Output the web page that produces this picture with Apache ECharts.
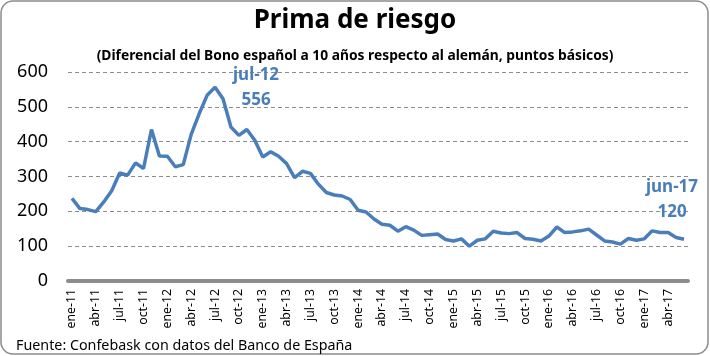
<!DOCTYPE html>
<html><head><meta charset="utf-8">
<script src="https://cdn.jsdelivr.net/npm/echarts@6/dist/echarts.min.js"></script>
<style>html,body{margin:0;padding:0;background:#fff}#c{width:710px;height:356px}</style>
</head><body><div id="c"></div>
<script>
const months = ['ene','feb','mar','abr','may','jun','jul','ago','sep','oct','nov','dic'];
const categories = [];
for (let y = 11; y <= 17; y++) for (let m = 0; m < 12; m++) { if (y === 17 && m > 5) break; categories.push(months[m] + '-' + y); }
const spread = [237,208,205,199,227,259,310,304,339,323,435,359,358,328,334,421,480,533,556,523,442,418,
  435,404,356,371,358,337,297,315,309,278,254,247,244,234,203,198,178,163,160,143,156,146,131,133,135,
  119,115,121,100,117,121,143,138,136,139,122,120,115,129,155,139,141,144,149,132,115,112,106,122,117,121,144,139,139,125,120];
const yTicks = [0,100,200,300,400,500,600];
const titleText = 'Prima de riesgo';
const subtitleText = '(Diferencial del Bono español a 10 años respecto al alemán, puntos básicos)';
const sourceText = 'Fuente: Confebask con datos del Banco de España';
const annotations = [{cat:'jul-12', val:556}, {cat:'jun-17', val:120}];
const blue = '#4a7ebb';
const chart = echarts.init(document.getElementById('c'));
chart.setOption({
  animation:false,
  title:[
    {text:titleText,left:'center',top:3,textStyle:{fontFamily:'Noto Sans',fontWeight:'bold',fontSize:26,color:'#000'}},
    {text:subtitleText,left:'center',top:44,textStyle:{fontFamily:'Noto Sans',fontWeight:'bold',fontSize:13.8,color:'#000'}},
    {text:sourceText,left:11,top:334,textStyle:{fontFamily:'Noto Sans',fontWeight:'normal',fontSize:14.3,color:'#000'}}
  ],
  graphic:[{type:'rect',shape:{x:1,y:1,width:707,height:353,r:12},style:{fill:'none',stroke:'#8c8c8c',lineWidth:1.5},z:-1}],
  grid:{left:68,right:22,top:72,bottom:75},
  xAxis:{type:'category',data:categories,boundaryGap:true,
    axisLine:{lineStyle:{color:'#8c8c8c',width:4}},axisTick:{show:false},
    axisLabel:{interval:2,rotate:90,fontFamily:'Noto Sans',fontSize:12.3,color:'#000',margin:8}},
  yAxis:{type:'value',min:0,max:600,interval:100,
    axisLine:{show:false},axisTick:{show:false},
    axisLabel:{fontFamily:'Noto Sans',fontSize:18,color:'#000',margin:20,
      formatter:v=>yTicks.includes(v)?String(v):''},
    splitLine:{lineStyle:{color:'#8c8c8c',type:[4,3],width:1}}},
  series:[{type:'line',data:spread,symbol:'none',smooth:false,
    lineStyle:{color:blue,width:3.5},
    markPoint:{symbol:'circle',symbolSize:0,
      data:[
        {coord:[annotations[0].cat,annotations[0].val],label:{show:true,formatter:annotations[0].cat+'\n'+annotations[0].val,offset:[41,0]}},
        {coord:[annotations[1].cat,annotations[1].val],label:{show:true,formatter:annotations[1].cat+'\n'+annotations[1].val,offset:[-12,-40]}}
      ],
      label:{color:blue,fontFamily:'Noto Sans',fontWeight:'bold',fontSize:17,lineHeight:25,align:'center'}}
  }]
});
</script></body></html>
